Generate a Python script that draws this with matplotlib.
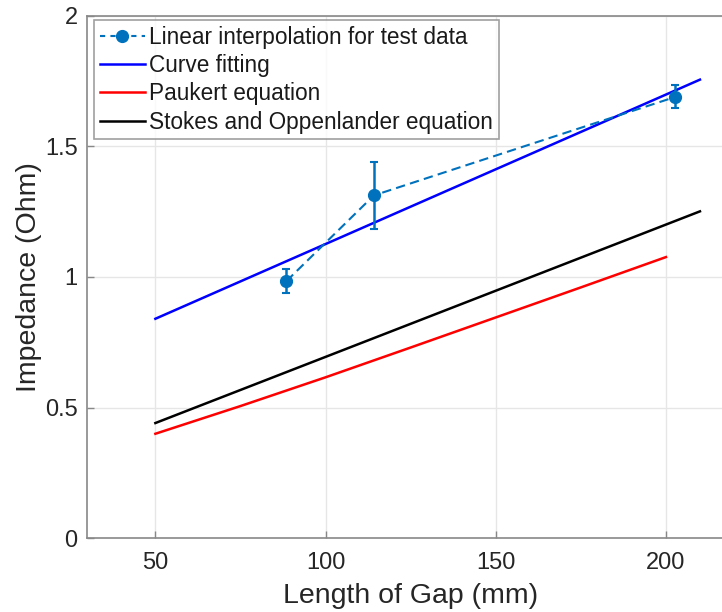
import matplotlib
matplotlib.use("Agg")
import matplotlib.pyplot as plt
from matplotlib.lines import Line2D

# Data
test_x = [88.5, 114.2, 202.8]
test_y = [0.984, 1.312, 1.689]
test_err = [0.046, 0.128, 0.044]

fit_x = [50, 210]
fit_y = [0.840, 1.755]

paukert_x = [50, 75, 100, 125, 150, 175, 200]
paukert_y = [0.400, 0.506, 0.616, 0.730, 0.845, 0.960, 1.076]

stokes_x = [50, 210]
stokes_y = [0.441, 1.251]

xticks = [50, 100, 150, 200]
yticks = [0, 0.5, 1, 1.5, 2]
ytick_labels = ["0", "0.5", "1", "1.5", "2"]

labels = ['Linear interpolation for test data', 'Curve fitting',
          'Paukert equation', 'Stokes and Oppenlander equation']

plt.rcParams['font.family'] = ['Liberation Sans', 'DejaVu Sans']

fig = plt.figure(figsize=(7.22, 6.12), dpi=100)
ax = fig.add_axes([87.3/722, 1 - 538.3/612, 646.7/722, (538.3 - 15.6)/612])

test_color = '#0072BD'
ax.errorbar(test_x, test_y, yerr=test_err, color=test_color, ls='--', dashes=(4.5, 2.5),
            marker='o', ms=8.5, lw=1.5, capsize=3, capthick=1.5, elinewidth=1.8, zorder=3)
ax.plot(fit_x, fit_y, color='#0000FF', lw=1.8, zorder=2)
ax.plot(paukert_x, paukert_y, color='#FF0000', lw=1.8, zorder=2)
ax.plot(stokes_x, stokes_y, color='#000000', lw=1.8, zorder=2)

ax.set_xlim(30, 220)
ax.set_ylim(0, 2)
ax.set_xticks(xticks)
ax.set_yticks(yticks)
ax.set_yticklabels(ytick_labels)
ax.grid(True, color='#e6e6e6', lw=1)
ax.set_axisbelow(True)
for s in ax.spines.values():
    s.set_color('#888888')
    s.set_linewidth(1.2)
ax.spines['right'].set_visible(False)
ax.tick_params(direction='in', length=5, width=1, colors='#888888',
               labelcolor='#262626', labelsize=17)
ax.tick_params(axis='x', pad=10)
ax.tick_params(axis='y', pad=7)
ax.set_xlabel('Length of Gap (mm)', fontsize=20.5, color='#262626', labelpad=6)
ax.set_ylabel('Impedance (Ohm)', fontsize=20.5, color='#262626', labelpad=2)

handles = [
    Line2D([], [], color=test_color, ls='--', dashes=(2.5, 2.5), marker='o', ms=8.5, lw=1.5),
    Line2D([], [], color='#0000FF', lw=1.8),
    Line2D([], [], color='#FF0000', lw=1.8),
    Line2D([], [], color='#000000', lw=1.8),
]
leg = ax.legend(handles, labels, loc='upper left', bbox_to_anchor=(94/722, 1 - 20/612),
                bbox_transform=fig.transFigure,
                fontsize=16.3, frameon=True, fancybox=False, handlelength=2.0,
                handletextpad=0.2, labelspacing=0.235, borderpad=0.25, borderaxespad=0)
leg.get_frame().set_edgecolor('#888888')
leg.get_frame().set_linewidth(1.2)
for t in leg.get_texts():
    t.set_color('#1a1a1a')

fig.savefig('out.png', dpi=100)
